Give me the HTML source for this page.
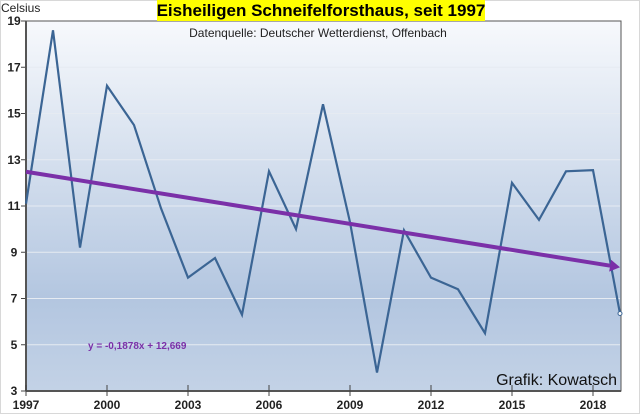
<!DOCTYPE html>
<html><head><meta charset="utf-8"><style>
body{margin:0;background:#fff;}
svg{display:block;font-family:"Liberation Sans",sans-serif;}
</style></head><body>
<svg width="640" height="414" viewBox="0 0 640 414">
<defs>
<linearGradient id="bg" x1="0" y1="0" x2="0" y2="1">
<stop offset="0" stop-color="#f7f9fc"/><stop offset="0.75" stop-color="#b3c6e0"/><stop offset="1" stop-color="#c3d2e6"/>
</linearGradient>
</defs>
<rect x="0.5" y="0.5" width="639" height="413" fill="#fff" stroke="#d8d8d8"/>
<rect x="26" y="21" width="595" height="370" fill="url(#bg)" stroke="#555" stroke-width="1"/>
<g id="grid"></g>
<g id="axes"></g>
<g id="series"></g>
<rect x="157" y="0" width="328" height="21" fill="#ffff00"/>
<text x="321" y="16" text-anchor="middle" font-size="17" font-weight="bold" fill="#000">Eisheiligen Schneifelforsthaus, seit 1997</text>
<text x="318" y="37" text-anchor="middle" font-size="12" fill="#222">Datenquelle: Deutscher Wetterdienst, Offenbach</text>
<text x="1" y="12" font-size="12" fill="#222">Celsius</text>
<text x="88" y="349" font-size="10" font-weight="bold" fill="#7b30a8">y = -0,1878x + 12,669</text>
<text x="617" y="385" text-anchor="end" font-size="16" fill="#111">Grafik: Kowatsch</text>
</svg>
<script>
const years=[1997,1998,1999,2000,2001,2002,2003,2004,2005,2006,2007,2008,2009,2010,2011,2012,2013,2014,2015,2016,2017,2018,2019];
const temps=[11.1,18.6,9.2,16.2,14.5,10.9,7.9,8.75,6.3,12.5,10.0,15.4,10.3,3.8,9.95,7.9,7.4,5.5,12.0,10.4,12.5,12.55,6.35];
const yTicks=[3,5,7,9,11,13,15,17,19];
const xTicks=[1997,2000,2003,2006,2009,2012,2015,2018];
const trendSlope=-0.1878, trendIntercept=12.669;
const NS='http://www.w3.org/2000/svg';
const X=y=>26+(y-1997)*(594/22);
const Y=v=>391-(v-3)*(370/16);
function mk(tag,attrs,parent){const e=document.createElementNS(NS,tag);for(const k in attrs)e.setAttribute(k,attrs[k]);parent.appendChild(e);return e;}
const grid=document.getElementById('grid'),axes=document.getElementById('axes'),series=document.getElementById('series');
yTicks.forEach(v=>{
 if(v>3&&v<19){const g=mk('line',{x1:27,x2:620,y1:Y(v),y2:Y(v),stroke:'#e6ebf2','stroke-width':1},grid);
 
 }
 const t=mk('line',{x1:21,x2:26,y1:Y(v),y2:Y(v),stroke:'#444'},axes);
 
 
 const l=mk('text',{x:14,y:Y(v)+4,'text-anchor':'middle','font-size':12,'font-weight':'bold',fill:'#222'},axes);
 l.textContent=v;
 
 
});
mk('line',{x1:26,x2:26,y1:21,y2:391,stroke:'#555','stroke-width':2},axes);
mk('line',{x1:26,x2:621,y1:391,y2:391,stroke:'#555','stroke-width':2},axes);
xTicks.forEach(yr=>{
 const t=mk('line',{x1:X(yr),x2:X(yr),y1:385,y2:396,stroke:'#444'},axes);
 
 
 const l=mk('text',{x:X(yr),y:409,'text-anchor':'middle','font-size':12,'font-weight':'bold',fill:'#222'},axes);
 l.textContent=yr;
 
 
});
const pl=mk('polyline',{points:years.map((y,i)=>X(y)+','+Y(temps[i])).join(' '),fill:'none',stroke:'#3b6594','stroke-width':2.2,'stroke-linejoin':'miter'},series);


const n=years.length;
const lastX=X(years[n-1]),lastY=Y(temps[n-1]);
const dot=mk('circle',{cx:lastX,cy:lastY,r:2,fill:'#fff',stroke:'#3b6594'},series);


const x1=X(years[0]),y1=Y(trendIntercept+trendSlope*1);
const x2=X(years[n-1]),y2=Y(trendIntercept+trendSlope*n);
const ang=Math.atan2(y2-y1,x2-x1);
const bx=x2-10*Math.cos(ang),by=y2-10*Math.sin(ang);
const tl=mk('line',{x1:x1,y1:y1,x2:bx,y2:by,stroke:'#7b30a8','stroke-width':4},series);


const px=-Math.sin(ang)*6,py=Math.cos(ang)*6;
const ar=mk('polygon',{points:`${x2},${y2} ${bx+px},${by+py} ${bx-px},${by-py}`,fill:'#7b30a8'},series);


</script>
</body></html>
